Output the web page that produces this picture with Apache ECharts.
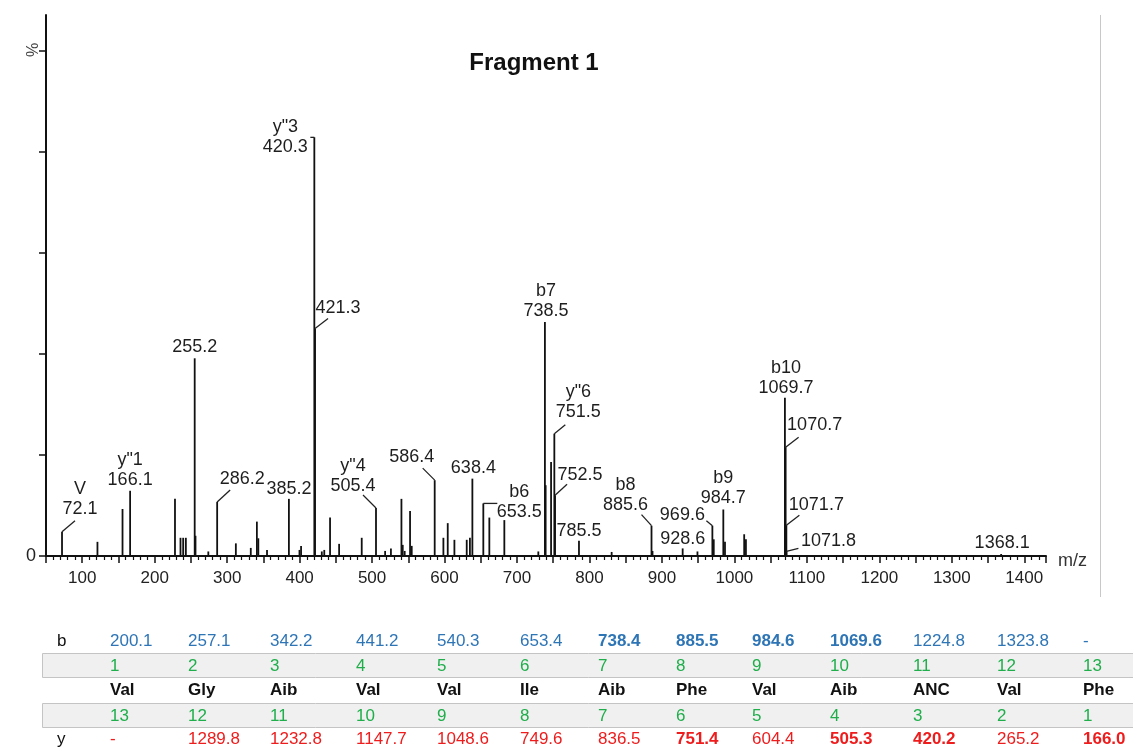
<!DOCTYPE html>
<html>
<head>
<meta charset="utf-8">
<script src="https://cdn.jsdelivr.net/npm/echarts@6/dist/echarts.min.js"></script>
<style>
html,body{margin:0;padding:0;background:#fff;}
#chart{width:1133px;height:747px;}
</style>
</head>
<body>
<div id="chart"></div>
<script>
// ---- spectrum data (m/z, relative intensity %) ----
const peakMz  = [72.1,121,155.6,166.1,228,235.6,239.3,243,255.2,256.3,274,286.2,312,332.6,341,343,355,385.2,399.8,402,
                 420.3,421.3,430.6,434,442,454.5,485.7,505.4,518,526,540.5,542.3,545,552.4,554.7,586.4,598.4,604.4,613.6,630.6,
                 635,638.4,653.5,661.8,682.5,729.4,738.5,739.5,747,751.5,752.5,785.5,830.6,885.6,887,928.6,949,969.6,971.5,984.7,
                 987,1013.5,1015.9,1069.7,1070.7,1071.7,1071.8,1368.1];
const peakInt = [4.8,2.8,9.3,12.9,11.3,3.6,3.6,3.6,39.1,4.0,0.9,10.7,2.5,1.6,6.8,3.5,1.2,11.3,1.2,2.0,
                 82.8,45,0.9,1.2,7.6,2.4,3.6,9.5,1.0,1.5,11.3,2.2,1.0,8.9,2.0,15.0,3.6,6.5,3.2,3.2,
                 3.6,15.3,10.4,7.6,7.1,0.9,46.3,14.0,18.6,24.2,12.0,3.0,0.8,6.0,1.0,1.5,0.9,6.0,3.3,9.2,
                 2.8,4.3,3.3,31.3,21.5,6.1,0.9,0.4];

// ---- annotated peaks ----
const labelMz  = [72.1,166.1,255.2,286.2,385.2,420.3,421.3,505.4,586.4,638.4,653.5,738.5,751.5,752.5,785.5,885.6,928.6,969.6,984.7,1069.7,1070.7,1071.7,1071.8,1368.1];
const labelIon = ['V','y"1','','','','y"3','','y"4','','','b6','b7','y"6','','','b8','','','b9','b10','','','',''];

// ---- axis tick labels ----
const xTickLabels = [100,200,300,400,500,600,700,800,900,1000,1100,1200,1300,1400];

// ---- fragment table ----
const bIons    = ['200.1','257.1','342.2','441.2','540.3','653.4','738.4','885.5','984.6','1069.6','1224.8','1323.8','-'];
const bMatched = [6,7,8,9];
const posFwd   = ['1','2','3','4','5','6','7','8','9','10','11','12','13'];
const residues = ['Val','Gly','Aib','Val','Val','Ile','Aib','Phe','Val','Aib','ANC','Val','Phe'];
const posRev   = ['13','12','11','10','9','8','7','6','5','4','3','2','1'];
const yIons    = ['-','1289.8','1232.8','1147.7','1048.6','749.6','836.5','751.4','604.4','505.3','420.2','265.2','166.0'];
const yMatched = [7,9,10,12];

// ---- layout (pixel offsets for annotation text / leader lines) ----
const labelLayout = [
 {t:[18,-23], l:[13,-11]},
 {t:[0,-11]},
 {t:[0,-11]},
 {t:[25,-23], l:[13,-12]},
 {t:[0,-10]},
 {t:[-29,10], l:[-4,0]},
 {t:[23,-20], l:[13,-10]},
 {t:[-23,-22], l:[-13,-13]},
 {t:[-23,-23], l:[-12,-12]},
 {t:[1,-11]},
 {t:[36,9], l:[14,0]},
 {t:[1,-11]},
 {t:[24,-22], l:[11,-9]},
 {t:[25,-20], l:[12,-11]},
 {t:[0,-10]},
 {t:[-26,-21], l:[-10,-11]},
 {t:[0,-9]},
 {t:[-30,-11], l:[-6,-5]},
 {t:[0,-11]},
 {t:[1,-10]},
 {t:[29,-22], l:[13,-10]},
 {t:[30,-20], l:[13,-10]},
 {t:[42,-10], l:[12,-3]},
 {t:[1,-11]}
];
const colX = [110,188,270,356,437,520,598,676,752,830,913,997,1083];
const rowY = {b:641, n1:666, res:690, n2:716, y:739};
const FONT = '"Liberation Sans", Arial, sans-serif';

const chart = echarts.init(document.getElementById('chart'), null, {renderer:'canvas'});

const stemData = peakMz.map((m,i)=>[m, peakInt[i]]);
const labelData = labelMz.map(m=>[m, peakInt[peakMz.indexOf(m)]]);

const graphics = [];
// title
graphics.push({type:'text', x:534, y:63, style:{text:'Fragment 1', font:'bold 24px '+FONT, fill:'#111', align:'center', verticalAlign:'middle'}});
// % label
graphics.push({type:'text', x:34, y:50, rotation:Math.PI/2, style:{text:'%', font:'16px '+FONT, fill:'#444', align:'center', verticalAlign:'middle'}});
// m/z
graphics.push({type:'text', x:1058, y:561, style:{text:'m/z', font:'18px '+FONT, fill:'#333', align:'left', verticalAlign:'middle'}});
// right frame line
graphics.push({type:'line', shape:{x1:1100.5,y1:15,x2:1100.5,y2:597}, style:{stroke:'#c8c8c8', lineWidth:1}});
// table bands
graphics.push({type:'rect', shape:{x:42.5,y:653.5,width:1100,height:24}, style:{fill:'#f0f0f0', stroke:'#c4c4c4', lineWidth:1}});
graphics.push({type:'rect', shape:{x:42.5,y:703.5,width:1100,height:24}, style:{fill:'#f0f0f0', stroke:'#c4c4c4', lineWidth:1}});
// row headers
graphics.push({type:'text', x:57, y:rowY.b, style:{text:'b', font:'17px '+FONT, fill:'#111', verticalAlign:'middle'}});
graphics.push({type:'text', x:57, y:rowY.y, style:{text:'y', font:'17px '+FONT, fill:'#111', verticalAlign:'middle'}});
for (let i=0;i<13;i++){
  const x = colX[i];
  graphics.push({type:'text', x, y:rowY.b, style:{text:bIons[i], font:(bMatched.includes(i)?'bold ':'')+'17px '+FONT, fill:'#2e75b6', verticalAlign:'middle'}});
  graphics.push({type:'text', x, y:rowY.n1, style:{text:posFwd[i], font:'17px '+FONT, fill:'#1fae4b', verticalAlign:'middle'}});
  graphics.push({type:'text', x, y:rowY.res, style:{text:residues[i], font:'bold 17px '+FONT, fill:'#111', verticalAlign:'middle'}});
  graphics.push({type:'text', x, y:rowY.n2, style:{text:posRev[i], font:'17px '+FONT, fill:'#1fae4b', verticalAlign:'middle'}});
  graphics.push({type:'text', x, y:rowY.y, style:{text:yIons[i], font:(yMatched.includes(i)?'bold ':'')+'17px '+FONT, fill:'#ee1c1c', verticalAlign:'middle'}});
}

chart.setOption({
  animation:false,
  backgroundColor:'#fff',
  grid:{left:46, top:15, width:1000, height:541, containLabel:false},
  xAxis:{
    type:'value', min:50, max:1430, interval:50,
    axisLine:{show:true, lineStyle:{color:'#111', width:2}},
    axisTick:{show:true, length:7, lineStyle:{color:'#111', width:1.5}},
    minorTick:{show:true, splitNumber:5, length:4, lineStyle:{color:'#111', width:1.2}},
    splitLine:{show:false},
    axisLabel:{
      margin:14, fontSize:17, fontFamily:FONT, color:'#222',
      formatter:v=> xTickLabels.includes(v) ? String(v) : ''
    }
  },
  yAxis:{
    type:'value', min:0, max:107, interval:20,
    axisLine:{show:true, lineStyle:{color:'#111', width:2}},
    axisTick:{show:true, length:7, lineStyle:{color:'#111', width:1.5}, customValues:[0,20,40,60,80,100]},
    splitLine:{show:false},
    axisLabel:{margin:10, fontSize:18, fontFamily:FONT, color:'#222', customValues:[0], formatter:v=> v===0?'0':''}
  },
  series:[
    {
      type:'custom', name:'peaks', data:stemData, clip:false, z:2,
      renderItem:(params, api)=>{
        const x = api.value(0), h = api.value(1);
        const p0 = api.coord([x,0]), p1 = api.coord([x,h]);
        return {type:'line', shape:{x1:p0[0],y1:p0[1],x2:p1[0],y2:p1[1]}, style:{stroke:'#111', lineWidth:1.8}};
      }
    },
    {
      type:'custom', name:'labels', data:labelData, clip:false, z:3,
      renderItem:(params, api)=>{
        const i = params.dataIndex;
        const p = api.coord([api.value(0), api.value(1)]);
        const L = labelLayout[i];
        const ch = [];
        if (L.l) ch.push({type:'line', shape:{x1:p[0],y1:p[1],x2:p[0]+L.l[0],y2:p[1]+L.l[1]}, style:{stroke:'#222', lineWidth:1.3}});
        const txt = (labelIon[i] ? labelIon[i] + '\n' : '') + labelMz[i].toFixed(1);
        ch.push({type:'text', style:{text:txt, x:p[0]+L.t[0], y:p[1]+L.t[1]+10, align:'center', verticalAlign:'bottom',
                 font:'18px '+FONT, lineHeight:20, fill:'#1e1e1e'}});
        return {type:'group', children:ch};
      }
    }
  ],
  graphic:graphics
});
</script>
</body>
</html>
